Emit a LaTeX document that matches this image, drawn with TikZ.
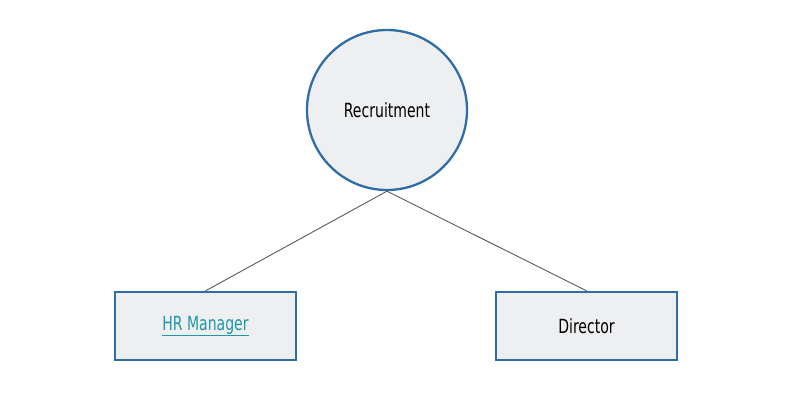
\documentclass[tikz,border=0pt]{standalone}
\usepackage{fontspec}
\newfontfamily\condfont{DejaVu Sans Condensed}
\definecolor{bord}{HTML}{2E6DA6}
\definecolor{fillc}{HTML}{EEEFF1}
\definecolor{linec}{HTML}{5A5A5A}
\definecolor{linkc}{HTML}{1E98A8}
\tikzset{
  shapebox/.style={draw=bord, fill=fillc, line width=2.3pt, inner sep=0pt},
  lbl/.style={font=\condfont\fontsize{19.5}{22}\selectfont, text=black, xscale=0.8},
  conn/.style={draw=linec, line width=0.9pt}
}
\begin{document}
\begin{tikzpicture}[x=1pt,y=-1pt]
\useasboundingbox (0,0) rectangle (806,415);
\node[shapebox, circle, minimum size=160pt] (rec) at (387,110) {};
\node[lbl] (t1) at (rec.center) {Recruitment};
\node[shapebox, rectangle, minimum width=181pt, minimum height=68pt] (hr) at (205.5,326) {};
\node[lbl, text=linkc] (t2) at (hr.center) {\underline{HR Manager}};
\node[shapebox, rectangle, minimum width=181pt, minimum height=68pt] (dir) at (586.5,326) {};
\node[lbl] (t3) at (dir.center) {Director};
\draw[conn] (rec.south) -- (hr.north);
\draw[conn] (rec.south) -- (dir.north);
\end{tikzpicture}
\end{document}
